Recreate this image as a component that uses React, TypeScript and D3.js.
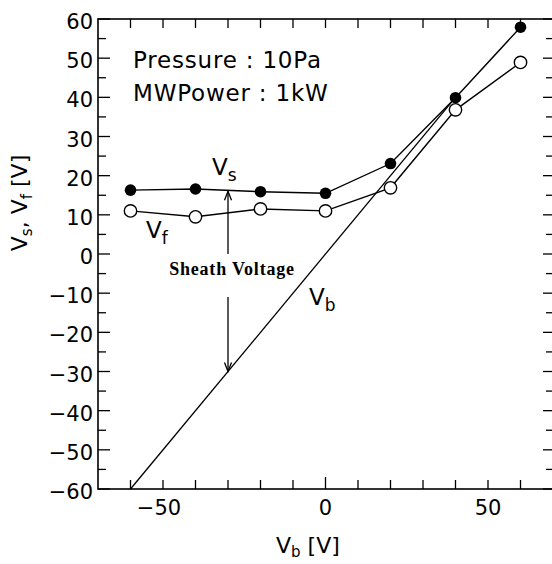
import React from 'react';
import * as d3 from 'd3';

// bias voltage points (V)
const vbValues = [-60, -40, -20, 0, 20, 40, 60];
// space potential Vs (filled dots)
const vsValues = [16.3, 16.6, 15.9, 15.5, 23.1, 39.9, 57.9];
// floating potential Vf (open circles)
const vfValues = [11.0, 9.5, 11.5, 11.0, 16.9, 36.8, 48.9];
// Vb = Vb reference line, end points
const vbLine = [-60, 40];

const yTickLabels = [60, 50, 40, 30, 20, 10, 0, -10, -20, -30, -40, -50, -60];
const xTickLabels = [-50, 0, 50];

// sheath voltage arrows (data units, at Vb = -30)
const sheathX = -30;
const upArrow = [0, 16];
const downArrow = [-11, -30];

const W = 552;
const H = 564;
const sans = '"DejaVu Sans", Verdana, sans-serif';

const fmt = (v: number) => (v < 0 ? '\u2212' + Math.abs(v) : String(v));

export default function App() {
  const x = d3.scaleLinear().domain([-70, 70]).range([98, 553]);
  const y = d3.scaleLinear().domain([-60, 60]).range([489, 19]);

  const [x0, x1] = x.range();
  const [y0, y1] = y.range();

  const line = d3
    .line<number>()
    .x((_, i) => x(vbValues[i]))
    .y(d => y(d));

  const yMinor = d3.range(-60, 61, 5);
  const xMinor = d3.range(-60, 61, 10);

  const arrowHead = (px: number, py: number, dir: number) =>
    `M${px - 3.5},${py + dir * 9}L${px},${py}L${px + 3.5},${py + dir * 9}`;

  return (
    <svg
      width={W}
      height={H}
      style={{ position: 'absolute', left: 0, top: 0, background: '#fff' }}
      fontFamily={sans}
    >
      {/* frame */}
      <rect x={x0} y={y1} width={x1 - x0} height={y0 - y1} fill="none" stroke="#000" strokeWidth={1.6} />

      {/* left / right ticks */}
      {yMinor.map(v => {
        const major = v % 10 === 0;
        return (
          <g key={'yt' + v}>
            <line x1={x0} x2={x0 + (major ? 12 : 8)} y1={y(v)} y2={y(v)} stroke="#000" strokeWidth={1.3} />
            <line x1={x1} x2={x1 - (major ? 10 : 7)} y1={y(v)} y2={y(v)} stroke="#000" strokeWidth={1.3} />
          </g>
        );
      })}
      {/* top / bottom ticks */}
      {xMinor.map(v => (
        <g key={'xt' + v}>
          <line x1={x(v)} x2={x(v)} y1={y1} y2={y1 + 9} stroke="#000" strokeWidth={1.3} />
          <line x1={x(v)} x2={x(v)} y1={y0} y2={y0 - (v === 0 ? 12 : 9)} stroke="#000" strokeWidth={1.3} />
        </g>
      ))}

      {/* tick labels */}
      {yTickLabels.map(v => (
        <text key={'yl' + v} x={93} y={y(v) + 10} textAnchor="end" fontSize={21}>
          {fmt(v)}
        </text>
      ))}
      {xTickLabels.map(v => (
        <text key={'xl' + v} x={x(v) - (v < 0 ? 4 : 0)} y={515} textAnchor="middle" fontSize={21}>
          {fmt(v)}
        </text>
      ))}

      {/* axis titles */}
      <text x={276} y={553} fontSize={22}>
        V<tspan fontSize={15} dy={4}>b</tspan>
        <tspan dy={-4}> [V]</tspan>
      </text>
      <text transform="translate(27,203) rotate(-90)" textAnchor="middle" fontSize={22}>
        V<tspan fontSize={15} dy={5}>s</tspan>
        <tspan dy={-5}>, V</tspan>
        <tspan fontSize={15} dy={5}>f</tspan>
        <tspan dy={-5}> [V]</tspan>
      </text>

      {/* conditions */}
      <text x={133} y={68} fontSize={23} letterSpacing={0.8}>Pressure : 10Pa</text>
      <text x={133} y={101} fontSize={23} letterSpacing={0.8}>MWPower : 1kW</text>

      {/* Vb reference line */}
      <line
        x1={x(vbLine[0])}
        y1={y(vbLine[0])}
        x2={x(vbLine[1])}
        y2={y(vbLine[1])}
        stroke="#000"
        strokeWidth={1.3}
      />

      {/* series lines */}
      <path d={line(vsValues) ?? ''} fill="none" stroke="#000" strokeWidth={1.4} />
      <path d={line(vfValues) ?? ''} fill="none" stroke="#000" strokeWidth={1.4} />

      {vfValues.map((v, i) => (
        <circle key={'vf' + i} cx={x(vbValues[i])} cy={y(v)} r={6.2} fill="#fff" stroke="#000" strokeWidth={1.4} />
      ))}
      {vsValues.map((v, i) => (
        <circle key={'vs' + i} cx={x(vbValues[i])} cy={y(v)} r={5.8} fill="#000" />
      ))}

      {/* series labels */}
      <text x={212} y={175} fontSize={23}>
        V<tspan fontSize={17} dy={6}>s</tspan>
      </text>
      <text x={146} y={238} fontSize={23}>
        V<tspan fontSize={17} dy={6}>f</tspan>
      </text>
      <text x={309} y={305} fontSize={23}>
        V<tspan fontSize={17} dy={6}>b</tspan>
      </text>

      {/* sheath voltage annotation */}
      <line x1={x(sheathX)} x2={x(sheathX)} y1={y(upArrow[0])} y2={y(upArrow[1])} stroke="#000" strokeWidth={1.3} />
      <path d={arrowHead(x(sheathX), y(upArrow[1]), 1)} fill="none" stroke="#000" strokeWidth={1.3} />
      <line x1={x(sheathX)} x2={x(sheathX)} y1={y(downArrow[0])} y2={y(downArrow[1])} stroke="#000" strokeWidth={1.3} />
      <path d={arrowHead(x(sheathX), y(downArrow[1]), -1)} fill="none" stroke="#000" strokeWidth={1.3} />
      <text
        x={232}
        y={275}
        textAnchor="middle"
        fontSize={18}
        fontWeight="bold"
        fontFamily='"Liberation Serif", "Times New Roman", serif'
        letterSpacing={0.8}
      >
        Sheath Voltage
      </text>
    </svg>
  );
}
